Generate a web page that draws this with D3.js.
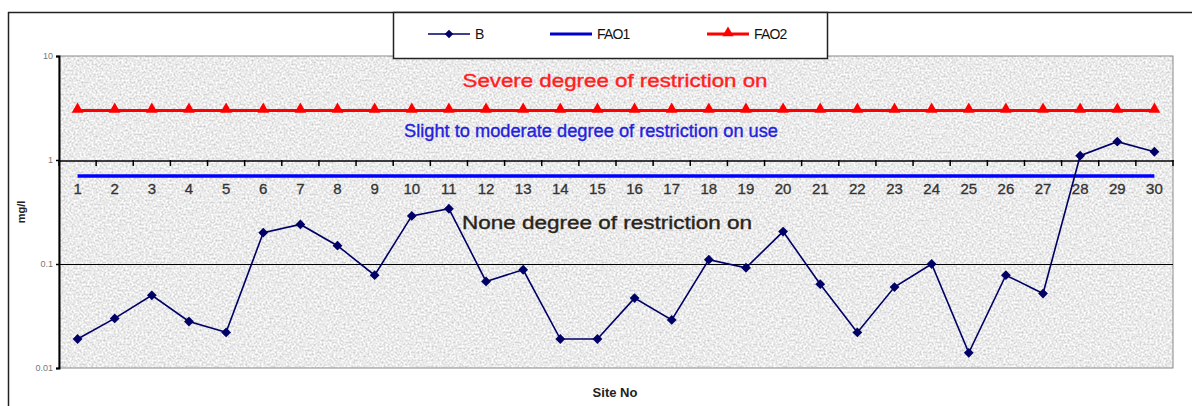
<!DOCTYPE html>
<html><head><meta charset="utf-8">
<script src="https://cdn.jsdelivr.net/npm/d3@7"></script>
<style>html,body{margin:0;padding:0;background:#fff;overflow:hidden}svg{display:block}text{font-family:Arial,"Liberation Sans",sans-serif}</style>
</head><body>
<svg id="chart" width="1192" height="406"></svg>
<script>
const sites = d3.range(1, 31);
const bValues = [0.019,0.03,0.05,0.028,0.022,0.2,0.24,0.15,0.078,0.29,0.34,0.068,0.088,0.019,0.019,0.047,0.029,0.11,0.092,0.205,0.064,0.022,0.06,0.1,0.014,0.078,0.052,1.1,1.5,1.2];
const fao1Values = sites.map(() => 0.7);
const fao2Values = sites.map(() => 3);
const yTicks = [10, 1, 0.1, 0.01];
const yTickLabels = ["10", "1", "0.1", "0.01"];
const seriesNames = ["B", "FAO1", "FAO2"];
const annotations = [
  {text: "Severe degree of restriction on", value: 5.75},
  {text: "Slight to moderate degree of restriction on use", value: 1.9},
  {text: "None degree of restriction on", value: 0.25}
];

const svg = d3.select("#chart");
const L = 59, R = 1173, T = 56, B = 368;
const x = d3.scaleBand().domain(sites).range([L, R]);
const y = d3.scaleLog().domain([0.01, 10]).range([B, T]);

// defs: noise texture
const defs = svg.append("defs");
const f = defs.append("filter").attr("id", "noise").attr("x", 0).attr("y", 0).attr("width", "100%").attr("height", "100%")
  .attr("filterUnits", "objectBoundingBox").attr("color-interpolation-filters", "sRGB");
f.append("feTurbulence").attr("type", "fractalNoise").attr("baseFrequency", 0.5).attr("numOctaves", 3).attr("seed", 7).attr("result", "t");
f.append("feColorMatrix").attr("in", "t").attr("type", "matrix")
  .attr("values", "0.38 0 0 0 0.73  0.38 0 0 0 0.73  0.38 0 0 0 0.73  0 0 0 0 1");

// outer frame
svg.append("line").attr("x1", 8).attr("x2", 1192).attr("y1", 12.5).attr("y2", 12.5).attr("stroke", "#222").attr("stroke-width", 1.5);
svg.append("line").attr("x1", 8.5).attr("x2", 8.5).attr("y1", 12).attr("y2", 406).attr("stroke", "#222").attr("stroke-width", 1.5);

// plot background
svg.append("rect").attr("x", L).attr("y", T).attr("width", R - L).attr("height", B - T).attr("fill", "#e6e6e6");
svg.append("rect").attr("x", L).attr("y", T).attr("width", R - L).attr("height", B - T).attr("fill", "#fff").attr("filter", "url(#noise)");
svg.append("rect").attr("x", L).attr("y", T).attr("width", R - L).attr("height", B - T)
  .attr("fill", "none").attr("stroke", "#8a8a8a").attr("stroke-width", 1);

// gridline at 0.1
svg.append("line").attr("x1", L).attr("x2", R).attr("y1", Math.round(y(0.1)) + 0.5).attr("y2", Math.round(y(0.1)) + 0.5)
  .attr("stroke", "#000").attr("stroke-width", 1.2);

// y axis
const yAxis = d3.axisLeft(y).tickValues(yTicks).tickFormat((d, i) => yTickLabels[i]).tickSize(3).tickPadding(3);
const yg = svg.append("g").attr("transform", `translate(${L},0)`).call(yAxis);
yg.select(".domain").attr("stroke", "#000").attr("stroke-width", 2);
yg.selectAll(".tick line").attr("stroke", "#000").attr("stroke-width", 1.5);
yg.selectAll(".tick text").attr("font-size", 9).attr("fill", "#777").attr("font-family", "Arial, Liberation Sans, sans-serif");

// x axis at y = 1
const xAxis = d3.axisBottom(x).tickSize(0).tickPadding(0);
const xg = svg.append("g").attr("transform", `translate(0,${Math.round(y(1)) + 0.5})`).call(xAxis);
xg.select(".domain").attr("stroke", "#000").attr("stroke-width", 1.5);
xg.selectAll(".tick text").attr("font-size", 15).attr("fill", "#333").attr("dy", "1.1em").attr("y", 17)
  .attr("stroke", "#333").attr("stroke-width", 0.3)
  .attr("font-family", "Arial, Liberation Sans, sans-serif");
// tick marks at category boundaries
const bounds = sites.map(s => x(s)).concat([R]);
svg.append("g").selectAll("line").data(bounds).join("line")
  .attr("x1", d => d).attr("x2", d => d).attr("y1", y(1)).attr("y2", y(1) + 6)
  .attr("stroke", "#000").attr("stroke-width", 1.5);

const cx = s => x(s) + x.bandwidth() / 2;
const diamond = d3.symbol().type(d3.symbolSquare).size(48);

// FAO2 line (red with triangles)
const lineGen = d3.line().x((d, i) => cx(sites[i])).y(d => y(d));
svg.append("path").datum(fao2Values).attr("d", lineGen).attr("fill", "none").attr("stroke", "#ff0000").attr("stroke-width", 3);
svg.append("g").selectAll("path").data(fao2Values).join("path")
  .attr("d", d3.symbol().type(d3.symbolTriangle).size(60))
  .attr("transform", (d, i) => `translate(${cx(sites[i])},${y(d) - 1})`).attr("fill", "#ff0000");

// FAO1 line (blue)
svg.append("path").datum(fao1Values).attr("d", lineGen).attr("fill", "none").attr("stroke", "#0000ff").attr("stroke-width", 3.5);

// annotations
const annColors = ["#ff2020", "#2222dd", "#2a2418"];
const annX = [615, 591, 607];
const annW = [305, 374, 290];
svg.append("g").selectAll("text").data(annotations).join("text")
  .attr("x", (d, i) => annX[i]).attr("y", d => y(d.value) + 6)
  .attr("text-anchor", "middle").attr("font-size", 18).attr("fill", (d, i) => annColors[i])
  .attr("stroke", (d, i) => annColors[i]).attr("stroke-width", 0.35)
  .attr("textLength", (d, i) => annW[i]).attr("lengthAdjust", "spacingAndGlyphs")
  .text(d => d.text);

// B series
svg.append("path").datum(bValues).attr("d", lineGen).attr("fill", "none").attr("stroke", "#000066").attr("stroke-width", 1.6);
svg.append("g").selectAll("path").data(bValues).join("path")
  .attr("d", diamond)
  .attr("transform", (d, i) => `translate(${cx(sites[i])},${y(d)}) rotate(45)`).attr("fill", "#000066");

// axis titles
svg.append("text").attr("transform", "translate(25,212) rotate(-90)").attr("text-anchor", "middle")
  .attr("font-size", 11).attr("font-weight", "bold").attr("fill", "#222").text("mg/l");
svg.append("text").attr("x", 615).attr("y", 397).attr("text-anchor", "middle")
  .attr("font-size", 13).attr("font-weight", "bold").attr("fill", "#222").text("Site No");

// legend
const lg = svg.append("g");
lg.append("rect").attr("x", 393.5).attr("y", 12.5).attr("width", 434).attr("height", 46)
  .attr("fill", "#fff").attr("stroke", "#222").attr("stroke-width", 1.5);
const legX = [428, 550, 707];
const legColors = ["#000066", "#0000cc", "#ff0000"];
const legWidths = [1.6, 3, 3];
seriesNames.forEach((name, i) => {
  lg.append("line").attr("x1", legX[i]).attr("x2", legX[i] + 42).attr("y1", 34).attr("y2", 34)
    .attr("stroke", legColors[i]).attr("stroke-width", legWidths[i]);
  if (i === 0) lg.append("path").attr("d", d3.symbol().type(d3.symbolSquare).size(36))
    .attr("transform", `translate(${legX[i] + 21},34) rotate(45)`).attr("fill", legColors[i]);
  if (i === 2) lg.append("path").attr("d", d3.symbol().type(d3.symbolTriangle).size(55))
    .attr("transform", `translate(${legX[i] + 21},33)`).attr("fill", legColors[i]);
  lg.append("text").attr("x", legX[i] + 47).attr("y", 39).attr("font-size", 14).attr("fill", "#111")
    .attr("letter-spacing", -0.8).text(name);
});
</script>
</body></html>
